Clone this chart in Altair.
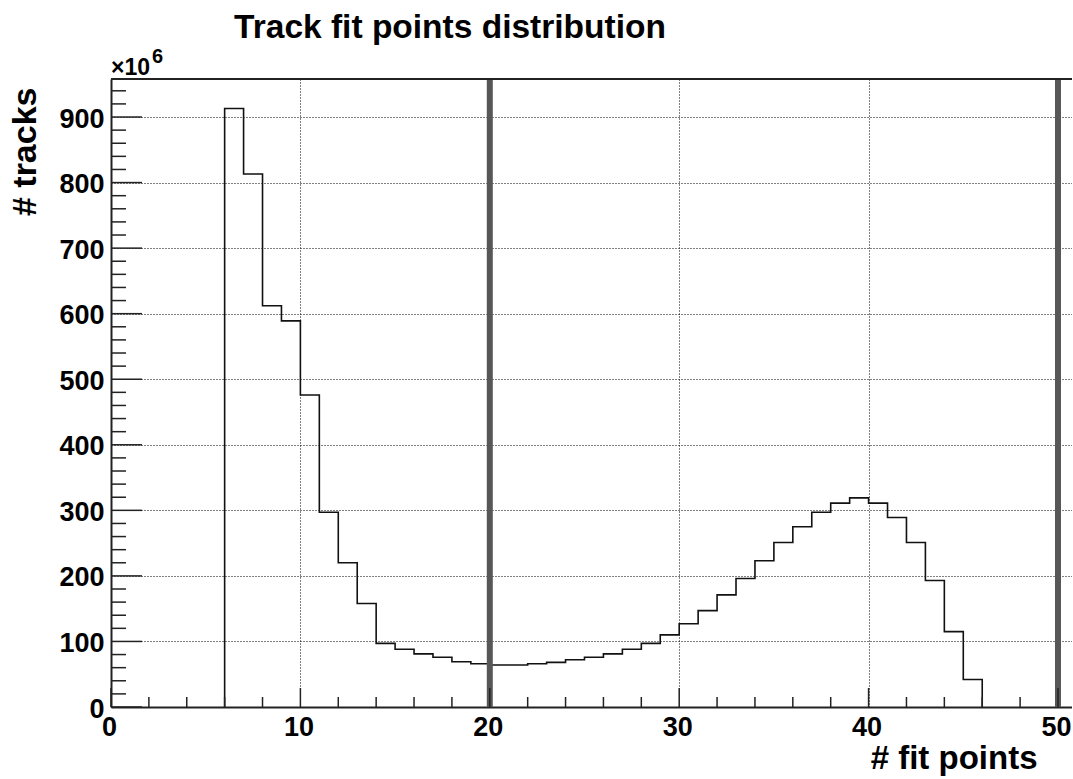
import altair as alt
import pandas as pd

# Histogram of track fit points: lower bin edges and counts (in millions)
bin_low = list(range(6, 46))
tracks_m = [913, 813, 612, 589, 476, 297, 220, 158, 97, 88,
            81, 76, 69, 66, 64, 64, 66, 68, 72, 76,
            81, 88, 97, 110, 127, 147, 171, 196, 223, 251,
            275, 297, 311, 319, 311, 289, 251, 193, 115, 42]

# Selection cut lines
cut_lines = [20, 50]

# Axis tick positions
x_major = [0, 10, 20, 30, 40, 50]
x_minor = [v for v in range(2, 50, 2) if v % 10]
y_major = list(range(0, 1000, 100))
y_minor = [v for v in range(20, 960, 20) if v % 100]

FONT = "Liberation Sans"
W, H = 961, 628
X_MAX, Y_MAX = 50.74, 958

# Step outline of the histogram built from the bin contents
xs = [bin_low[0]] + bin_low + [bin_low[-1] + 1]
ys = [0] + tracks_m + [0]
outline = pd.DataFrame({"x": xs, "y": ys, "order": list(range(len(xs)))})

x_scale = alt.Scale(domain=[0, X_MAX], nice=False, zero=False)
y_scale = alt.Scale(domain=[0, Y_MAX], nice=False, zero=False)

x_axis = alt.Axis(
    values=x_major, format="d", ticks=False,
    labelFont=FONT, labelFontSize=27, labelFontWeight="bold", labelColor="black",
    labelPadding=7, labelOffset=-2, labelFlush=False, labelOverlap=False,
    domainColor="#222", domainWidth=2,
    grid=True, gridColor="black", gridDash=[1, 2], gridWidth=1, gridOpacity=1,
    title="# fit points", titleFont=FONT, titleFontSize=33, titleFontWeight="bold",
    titleColor="black", titleAlign="right", titleBaseline="alphabetic",
    titleAngle=0, titleX=926, titleY=61,
)
y_axis = alt.Axis(
    values=y_major, format="d", ticks=False,
    labelFont=FONT, labelFontSize=27, labelFontWeight="bold", labelColor="black",
    labelPadding=7, labelAlign="right", labelBaseline="middle", labelOffset=2,
    labelFlush=False, labelOverlap=False,
    domainColor="#222", domainWidth=2,
    grid=True, gridColor="black", gridDash=[1, 2], gridWidth=1, gridOpacity=1,
    title="# tracks", titleFont=FONT, titleFontSize=34, titleFontWeight="bold",
    titleColor="black", titleAlign="right", titleBaseline="alphabetic",
    titleAngle=270, titleX=-76, titleY=8,
)

X = lambda: alt.X("x:Q", scale=x_scale, axis=x_axis)
Y = lambda: alt.Y("y:Q", scale=y_scale, axis=y_axis)

hist = alt.Chart(outline).mark_line(
    interpolate="step-after", color="#111", strokeWidth=1.6, clip=True
).encode(x=X(), y=Y(), order=alt.Order("order:Q"))

cuts = alt.Chart(pd.DataFrame({"x": cut_lines})).mark_rule(
    color="#575757", strokeWidth=6
).encode(x=X())

# Inward ticks along the left axis
y_major_ticks = alt.Chart(pd.DataFrame({"y": y_major})).mark_rule(
    color="#222", strokeWidth=1.5
).encode(y=Y(), x=alt.value(0), x2=alt.value(31))
y_minor_ticks = alt.Chart(pd.DataFrame({"y": y_minor})).mark_rule(
    color="#222", strokeWidth=1.5
).encode(y=Y(), x=alt.value(0), x2=alt.value(15))

# Inward ticks along the bottom axis
x_major_ticks = alt.Chart(pd.DataFrame({"x": x_major})).mark_rule(
    color="#222", strokeWidth=1.5
).encode(x=X(), y=alt.value(H), y2=alt.value(H - 19))
x_minor_ticks = alt.Chart(pd.DataFrame({"x": x_minor})).mark_rule(
    color="#222", strokeWidth=1.5
).encode(x=X(), y=alt.value(H), y2=alt.value(H - 10))

one = pd.DataFrame({"k": [0]})

# Top edge of the frame
frame_top = alt.Chart(one).mark_rule(color="#222", strokeWidth=2).encode(
    x=alt.value(0), x2=alt.value(W), y=alt.value(0)
)

title = alt.Chart(one).mark_text(
    text="Track fit points distribution", font=FONT, fontSize=33.5,
    fontWeight="bold", color="black", align="center", baseline="alphabetic"
).encode(x=alt.value(339), y=alt.value(-41))

exp_base = alt.Chart(one).mark_text(
    text="×10", font=FONT, fontSize=23, fontWeight="bold", color="black",
    align="left", baseline="alphabetic"
).encode(x=alt.value(0), y=alt.value(-4))
exp_pow = alt.Chart(one).mark_text(
    text="6", font=FONT, fontSize=20, fontWeight="bold", color="black",
    align="left", baseline="alphabetic"
).encode(x=alt.value(41), y=alt.value(-16))

chart = alt.layer(
    hist, cuts, y_major_ticks, y_minor_ticks, x_major_ticks, x_minor_ticks,
    frame_top, title, exp_base, exp_pow,
).properties(
    width=W, height=H, autosize="none",
    padding={"left": 111, "top": 79, "right": 0, "bottom": 70},
    background="white",
).configure_view(stroke=None)

chart.save("out.html", embed_options={"renderer": "svg", "actions": False})
